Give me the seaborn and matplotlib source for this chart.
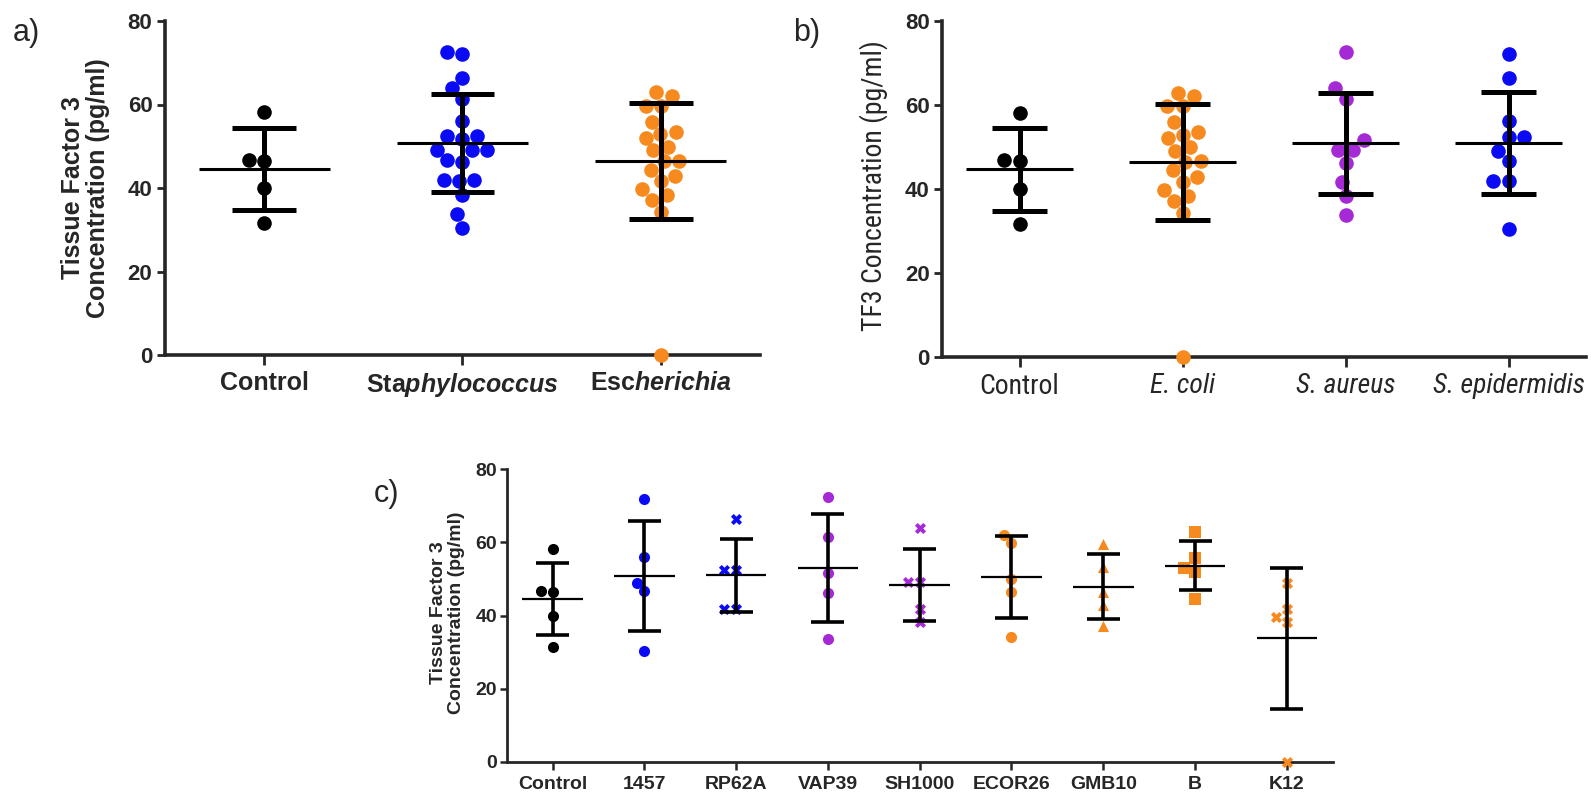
import numpy as np
import pandas as pd
import matplotlib
matplotlib.use("Agg")
import matplotlib.pyplot as plt
import seaborn as sns
from matplotlib import font_manager

# Tissue Factor 3 concentration (pg/ml) per strain
control = [58.1, 46.5, 46.8, 40.0, 31.5]
s1457 = [72.0, 56.1, 49.0, 46.6, 30.4]
rp62a = [66.3, 52.4, 52.4, 41.9, 41.9]
vap39 = [72.5, 61.4, 51.7, 46.2, 33.7]
sh1000 = [63.9, 49.2, 49.2, 41.7, 38.3]
ecor26 = [62.0, 59.7, 49.9, 46.4, 34.2]
gmb10 = [59.6, 53.4, 46.5, 42.8, 37.1]
strain_b = [62.9, 55.8, 52.9, 52.0, 44.4]
k12 = [49.0, 41.7, 39.7, 38.3, 0.0]

strains = ["Control", "1457", "RP62A", "VAP39", "SH1000", "ECOR26", "GMB10", "B", "K12"]
genus_labels = ["Control", r"Sta$\mathbfit{phylococcus}$", r"Esc$\mathbfit{herichia}$"]
species_labels = ["Control", "E. coli", "S. aureus", "S. epidermidis"]

BLACK = "black"
BLUE = "#0a0af5"
ORANGE = "#f68a1e"
PURPLE = "#a52ad6"

sns.set_style("ticks")
names = {f.name for f in font_manager.fontManager.ttflist}
narrow = None
for cand in ["Liberation Sans Narrow", "Arial Narrow", "Roboto Condensed", "Open Sans Condensed"]:
    if cand in names:
        narrow = cand
        break
if narrow:
    b_font, b_tick_size, b_label_size = narrow, 20, 20
else:
    b_font, b_tick_size, b_label_size = "Liberation Sans", 16.5, 18.5
plt.rcParams["font.family"] = ["Liberation Sans", "DejaVu Sans"]
plt.rcParams["mathtext.fontset"] = "custom"
plt.rcParams["mathtext.rm"] = "Liberation Sans:bold"
plt.rcParams["mathtext.bfit"] = "Liberation Sans:italic:bold"


def make_df(groups):
    rows = []
    for name, vals in groups:
        for v in vals:
            rows.append({"group": name, "value": v})
    return pd.DataFrame(rows)


def draw_panel(ax, groups, styles, size, mean_hw, cap_hw, lw_mean, lw_bar):
    df = make_df(groups)
    order = [g[0] for g in groups]
    for (name, vals), (color, marker) in zip(groups, styles):
        sub = df[df["group"] == name]
        sns.swarmplot(data=sub, x="group", y="value", order=order, color=color,
                      marker=marker, size=size, linewidth=0, ax=ax, zorder=3)
    for c in ax.collections:
        c.set_clip_on(False)
    for i, (name, vals) in enumerate(groups):
        v = np.array(vals)
        m, s = v.mean(), v.std(ddof=1)
        ax.hlines(m, i - mean_hw, i + mean_hw, color="black", lw=lw_mean, zorder=4)
        ax.vlines(i, m - s, m + s, color="black", lw=lw_bar, zorder=4)
        ax.hlines([m - s, m + s], i - cap_hw, i + cap_hw, color="black", lw=lw_bar, zorder=4)
    ax.set_ylim(0, 80)
    ax.set_yticks([0, 20, 40, 60, 80])
    ax.set_xlabel("")
    sns.despine(ax=ax)


W, H = 1591, 799
fig = plt.figure(figsize=(W / 100, H / 100), dpi=100)
ax_a = fig.add_axes([165 / W, 1 - 355 / H, (760 - 165) / W, (355 - 21) / H])
ax_b = fig.add_axes([942 / W, 1 - 356.7 / H, (1586 - 942) / W, (356.7 - 20.7) / H])
ax_c = fig.add_axes([506.7 / W, 1 - 761.7 / H, (1332.7 - 506.7) / W, (761.7 - 469.3) / H])

# a) genus level
draw_panel(ax_a,
           [("Control", control),
            ("Staphylococcus", s1457 + rp62a + vap39 + sh1000),
            ("Escherichia", ecor26 + gmb10 + strain_b + k12)],
           [(BLACK, "o"), (BLUE, "o"), (ORANGE, "o")],
           size=10.5, mean_hw=0.33, cap_hw=0.16, lw_mean=2.2, lw_bar=3.6)
ax_a.set_xlim(-0.5, 2.5)
ax_a.set_xticks(range(3))
ax_a.set_xticklabels(genus_labels, fontsize=18, fontweight="bold")
ax_a.tick_params(axis="y", labelsize=16, length=6, width=2, pad=3)
ax_a.tick_params(axis="x", length=7.5, width=2, pad=4)
for lbl in ax_a.get_yticklabels():
    lbl.set_fontweight("bold")
ax_a.set_ylabel("Tissue Factor 3\nConcentration (pg/ml)", fontsize=18, fontweight="bold",
                linespacing=1.05)
ax_a.yaxis.set_label_coords(-0.092, 0.5)
for sp in ax_a.spines.values():
    sp.set_linewidth(2.6)

# b) species level
draw_panel(ax_b,
           [("Control", control),
            ("E. coli", ecor26 + gmb10 + strain_b + k12),
            ("S. aureus", vap39 + sh1000),
            ("S. epidermidis", s1457 + rp62a)],
           [(BLACK, "o"), (ORANGE, "o"), (PURPLE, "o"), (BLUE, "o")],
           size=10.5, mean_hw=0.33, cap_hw=0.17, lw_mean=2.2, lw_bar=3.6)
ax_b.set_xlim(-0.4755, 3.475)
ax_b.set_xticks(range(4))
ax_b.set_xticklabels(species_labels, fontsize=b_tick_size, family=b_font)
for lbl in ax_b.get_xticklabels()[1:]:
    lbl.set_style("italic")
ax_b.tick_params(axis="y", labelsize=16, length=6, width=2, pad=3)
ax_b.tick_params(axis="x", length=7.5, width=2, pad=4)
for lbl in ax_b.get_yticklabels():
    lbl.set_fontweight("bold")
ax_b.set_ylabel("TF3 Concentration (pg/ml)", fontsize=b_label_size, family=b_font)
ax_b.yaxis.set_label_coords(-0.0836, 0.51)
for sp in ax_b.spines.values():
    sp.set_linewidth(2.6)

# c) strain level
draw_panel(ax_c,
           [("Control", control), ("1457", s1457), ("RP62A", rp62a),
            ("VAP39", vap39), ("SH1000", sh1000), ("ECOR26", ecor26),
            ("GMB10", gmb10), ("B", strain_b), ("K12", k12)],
           [(BLACK, "o"), (BLUE, "o"), (BLUE, "X"), (PURPLE, "o"), (PURPLE, "X"),
            (ORANGE, "o"), (ORANGE, "^"), (ORANGE, "s"), (ORANGE, "X")],
           size=8, mean_hw=0.33, cap_hw=0.18, lw_mean=1.6, lw_bar=2.6)
ax_c.set_xlim(-0.5, 8.5)
ax_c.set_xticks(range(len(strains)))
ax_c.set_xticklabels(strains, fontsize=14, fontweight="bold")
ax_c.tick_params(axis="y", labelsize=14, length=5, width=1.8, pad=2)
ax_c.tick_params(axis="x", length=6, width=1.8, pad=4)
for lbl in ax_c.get_yticklabels():
    lbl.set_fontweight("bold")
ax_c.set_ylabel("Tissue Factor 3\nConcentration (pg/ml)", fontsize=14, fontweight="bold",
                linespacing=1.05)
ax_c.yaxis.set_label_coords(-0.0505, 0.509)
for sp in ax_c.spines.values():
    sp.set_linewidth(2.0)

fig.text(13 / W, 1 - 33 / H, "a)", fontsize=22, va="center", ha="left")
fig.text(793 / W, 1 - 33 / H, "b)", fontsize=22, va="center", ha="left")
fig.text(374 / W, 1 - 494 / H, "c)", fontsize=22, va="center", ha="left")

fig.savefig("out.png", dpi=100)
